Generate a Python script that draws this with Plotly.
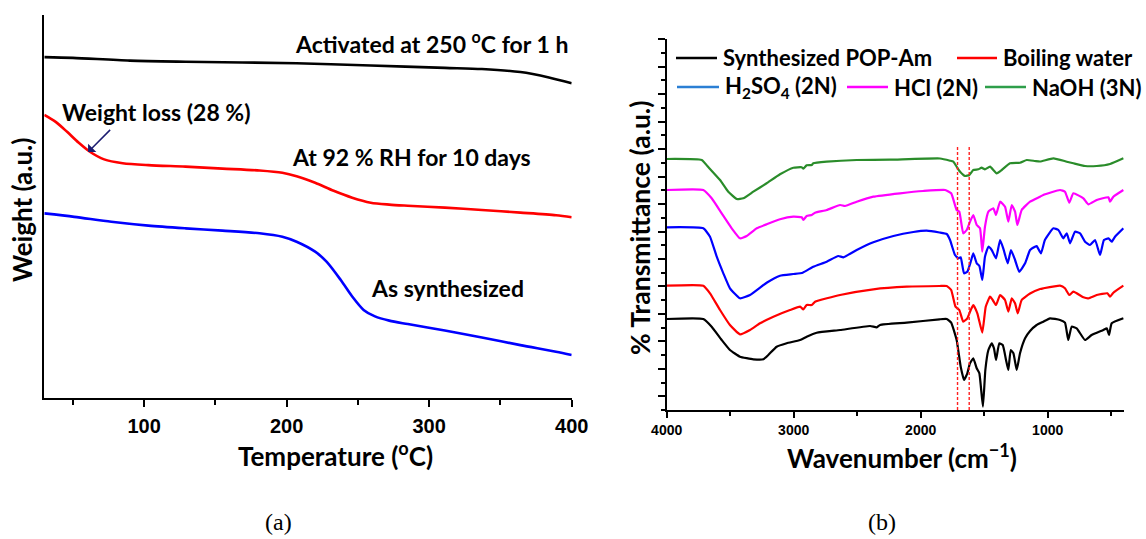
import plotly.graph_objects as go

# ---------------- Panel (a): TGA ----------------
temp_activated = [30, 50, 90, 129, 207, 259, 311, 337, 364, 384, 400]
weight_activated = [89.0, 88.8, 88.1, 87.8, 87.4, 86.8, 86.2, 85.9, 85.1, 83.7, 82.2]

temp_humid = [30, 38, 46, 54, 62, 72, 85, 103, 129, 155, 181, 197, 207, 220, 233, 246,
              259, 272, 285, 311, 337, 364, 389, 400]
weight_humid = [73.9, 72.1, 69.5, 66.7, 64.3, 62.3, 61.3, 60.8, 60.4, 59.9, 59.4, 58.8,
                57.9, 56.2, 54.1, 52.3, 51.0, 50.5, 50.2, 49.7, 49.1, 48.4, 47.7, 47.2]

temp_synth = [30, 51, 77, 103, 129, 155, 181, 197, 207, 220, 228, 238, 246, 254, 262,
              272, 285, 311, 337, 364, 389, 400]
weight_synth = [48.2, 47.3, 46.0, 45.0, 44.3, 43.7, 43.0, 42.1, 40.8, 38.2, 35.6, 30.8,
                26.5, 23.0, 21.3, 20.2, 19.3, 17.6, 15.8, 13.8, 12.1, 11.2]

# ---------------- Panel (b): FTIR ----------------
wn_naoh = [4000, 3724, 3675, 3580, 3515, 3449, 3397, 3318, 3213, 3108, 3003, 2937, 2924,
           2898, 2858, 2846, 2740, 2504, 2242, 1848, 1769, 1743, 1717, 1690, 1651, 1617,
           1586, 1546, 1520, 1494, 1454, 1402, 1362, 1297, 1218, 1165, 1100, 1060, 955,
           850, 798, 706, 614, 509, 404]
tr_naoh = [25.1, 25.0, 24.33, 23.0, 21.83, 21.1, 21.17, 21.83, 22.67, 23.57, 24.23, 24.27,
           24.13, 24.47, 24.5, 24.67, 24.83, 25.0, 25.03, 25.15, 24.93, 24.83, 24.33, 23.83,
           23.4, 23.5, 24.0, 24.07, 24.23, 24.07, 24.33, 23.67, 24.0, 24.67, 24.73, 25.0,
           24.9, 24.85, 25.17, 24.83, 24.67, 24.4, 24.4, 24.6, 25.17]

wn_hcl = [4000, 3712, 3646, 3567, 3488, 3423, 3370, 3291, 3213, 3108, 3003, 2937, 2924,
          2898, 2858, 2832, 2740, 2635, 2596, 2504, 2373, 2163, 1980, 1807, 1760, 1717,
          1696, 1665, 1638, 1612, 1586, 1559, 1533, 1515, 1494, 1467, 1428, 1407, 1375,
          1336, 1310, 1283, 1257, 1239, 1205, 1139, 1060, 1035, 903, 864, 830, 798, 719,
          680, 614, 522, 509, 483, 404]
tr_hcl = [22.0, 22.0, 21.17, 19.67, 18.17, 17.17, 17.4, 18.17, 18.57, 19.07, 19.33, 19.27,
          19.0, 19.4, 19.5, 19.73, 20.0, 20.5, 20.4, 20.83, 21.33, 21.67, 21.9, 22.0, 21.67,
          20.0, 19.83, 17.67, 18.0, 18.83, 19.5, 18.5, 18.17, 15.83, 18.33, 19.83, 20.17,
          19.5, 20.83, 20.33, 18.83, 20.5, 19.83, 18.5, 20.0, 20.83, 21.33, 21.5, 22.0,
          21.83, 20.73, 21.67, 21.17, 20.57, 21.0, 21.27, 20.83, 21.33, 22.0]

wn_h2so4 = [4000, 3712, 3659, 3606, 3554, 3502, 3423, 3344, 3213, 3108, 3003, 2929, 2846,
            2740, 2649, 2609, 2504, 2373, 2215, 2058, 1953, 1852, 1795, 1769, 1730, 1704,
            1685, 1659, 1633, 1606, 1586, 1559, 1538, 1515, 1494, 1467, 1441, 1407, 1375,
            1350, 1315, 1289, 1257, 1224, 1178, 1139, 1100, 1087, 1053, 1022, 955, 916,
            877, 850, 824, 785, 745, 706, 667, 627, 588, 557, 522, 496, 470, 404]
tr_h2so4 = [18.27, 18.17, 17.33, 15.33, 13.67, 12.17, 11.17, 11.5, 12.73, 13.43, 13.6,
            13.73, 14.33, 14.83, 15.4, 15.27, 16.0, 16.77, 17.4, 17.8, 17.93, 17.75, 17.6,
            17.0, 15.5, 15.17, 15.27, 13.67, 13.83, 14.83, 15.67, 14.67, 14.4, 13.0, 15.33,
            16.33, 16.0, 15.17, 17.0, 16.17, 14.67, 16.0, 15.0, 13.83, 14.67, 16.0, 16.33,
            16.4, 15.67, 17.0, 18.17, 18.0, 17.17, 17.67, 16.67, 17.83, 17.67, 16.83, 16.5,
            17.0, 15.5, 17.0, 17.17, 16.83, 17.33, 18.17]

wn_boil = [4000, 3712, 3659, 3580, 3502, 3423, 3344, 3265, 3160, 3029, 2950, 2924, 2898,
           2858, 2832, 2635, 2373, 2110, 1852, 1795, 1760, 1726, 1696, 1665, 1633, 1606,
           1586, 1554, 1515, 1488, 1454, 1433, 1407, 1375, 1336, 1310, 1283, 1257, 1236,
           1205, 1139, 1060, 1035, 903, 864, 830, 798, 719, 680, 614, 530, 509, 483, 404]
tr_boil = [12.43, 12.43, 11.67, 10.0, 8.5, 7.57, 8.0, 8.67, 9.33, 10.0, 10.33, 10.07, 10.5,
           10.5, 10.83, 11.5, 12.07, 12.33, 12.4, 12.4, 12.0, 10.33, 10.0, 8.83, 9.17, 10.0,
           10.5, 9.67, 7.73, 10.33, 11.33, 11.0, 10.5, 11.5, 11.0, 9.83, 11.17, 10.67, 9.67,
           11.0, 11.65, 12.1, 12.17, 12.43, 12.17, 11.5, 11.83, 11.27, 11.17, 11.5, 11.67,
           11.33, 11.73, 12.43]

wn_synth = [4000, 3712, 3646, 3567, 3502, 3423, 3318, 3239, 3200, 3134, 3055, 2950, 2898,
            2819, 2635, 2399, 2346, 2320, 2110, 1852, 1795, 1760, 1717, 1685, 1659, 1633,
            1612, 1586, 1559, 1538, 1510, 1491, 1467, 1441, 1423, 1407, 1381, 1354, 1328,
            1310, 1291, 1270, 1244, 1218, 1178, 1139, 1087, 1035, 982, 903, 864, 838, 811,
            772, 706, 654, 562, 535, 517, 496, 404]
tr_synth = [9.1, 9.1, 8.33, 7.0, 6.0, 5.33, 5.07, 5.07, 5.5, 6.33, 6.67, 7.0, 7.33, 7.73,
            8.0, 8.4, 8.27, 8.5, 8.73, 9.07, 9.1, 8.73, 7.0, 4.33, 3.0, 3.67, 4.67, 5.17,
            4.17, 3.67, 0.33, 4.0, 6.0, 6.67, 6.17, 5.0, 6.67, 6.5, 5.0, 4.0, 6.0, 5.67, 4.0,
            5.67, 7.17, 7.9, 8.5, 8.83, 9.17, 9.0, 8.73, 7.0, 8.33, 8.17, 7.0, 7.5, 8.0, 8.17,
            7.5, 8.67, 9.17]

marker_lines = [1710, 1618]   # dashed reference lines (cm-1)

legend_names = ["Synthesized POP-Am", "Boiling water", "H<sub>2</sub>SO<sub>4</sub> (2N)",
                "HCl (2N)", "NaOH (3N)"]

BLACK, RED, BLUE, MAG, GREEN = "#000000", "#ff0000", "#0000ff", "#ff00ff", "#2a8c2a"

fig = go.Figure()

for t, w, c in [(temp_activated, weight_activated, BLACK),
                (temp_humid, weight_humid, RED),
                (temp_synth, weight_synth, BLUE)]:
    fig.add_trace(go.Scatter(x=t, y=w, mode="lines", line=dict(color=c, width=2.6, shape="spline", smoothing=0.8),
                             xaxis="x", yaxis="y", showlegend=False, hoverinfo="skip"))

for wn, tr, c in [(wn_synth, tr_synth, BLACK), (wn_boil, tr_boil, RED),
                  (wn_h2so4, tr_h2so4, BLUE), (wn_hcl, tr_hcl, MAG), (wn_naoh, tr_naoh, GREEN)]:
    fig.add_trace(go.Scatter(x=wn, y=tr, mode="lines", line=dict(color=c, width=2.2, shape="spline", smoothing=0.4),
                             xaxis="x2", yaxis="y2", showlegend=False, hoverinfo="skip"))

for m in marker_lines:
    fig.add_trace(go.Scatter(x=[m, m], y=[0.0, 26.5], mode="lines",
                             line=dict(color="#ff2020", width=1.4, dash="3px,2px"),
                             xaxis="x2", yaxis="y2", showlegend=False, hoverinfo="skip"))

W, H = 1146, 539
def px(x): return x / W
def py(y): return 1 - y / H

axis_common = dict(showgrid=False, zeroline=False, showline=True, linecolor="black",
                   linewidth=2, ticks="outside", tickcolor="black", tickwidth=2,
                   automargin=False)

fig.update_layout(
    template="none",
    width=W, height=H, margin=dict(l=0, r=0, t=0, b=0, pad=0, autoexpand=False),
    paper_bgcolor="white", plot_bgcolor="white",
    xaxis=dict(domain=[px(44.3), px(571.7)], range=[30, 400], anchor="y",
               tickvals=[100, 200, 300, 400], ticklen=7, ticklabelstandoff=2,
               minor=dict(tickvals=[50, 150, 250, 350], ticklen=5, tickwidth=2, ticks="outside", tickcolor="black"),
               tickfont=dict(family="Liberation Sans", size=20, color="black", weight="bold"),
               **axis_common),
    yaxis=dict(domain=[py(398), py(15)], range=[0, 100], anchor="x", showticklabels=False,
               **{**axis_common, "ticks": ""}),
    xaxis2=dict(domain=[px(666.7), px(1123.9)], range=[4000, 400], anchor="y2",
                tickvals=[4000, 3000, 2000, 1000], ticklen=6, ticklabelstandoff=0,
                minor=dict(tickvals=[3500, 2500, 1500, 500], ticklen=4, tickwidth=2, ticks="outside", tickcolor="black"),
                tickfont=dict(family="Liberation Sans", size=14, color="black", weight="bold"),
                **axis_common),
    yaxis2=dict(domain=[py(410), py(39.3)], range=[0, 37.07], anchor="x2", showticklabels=False,
                tick0=1.372, dtick=2.746, ticklen=7,
                minor=dict(tick0=0.0, dtick=1.373, ticklen=4, tickwidth=2, ticks="outside", tickcolor="black"),
                **axis_common),
)

LAB = dict(family="Lato", color="black", weight="bold")
ann = []
def text(x, y, s, size, anchor="center", angle=0, font=None):
    f = dict(LAB) if font is None else dict(font)
    f["size"] = size
    ann.append(dict(x=px(x), y=py(y), xref="paper", yref="paper", text=s, showarrow=False,
                    xanchor=anchor, yanchor="middle", textangle=angle, font=f))

text(22, 210, "Weight (a.u.)", 26, angle=-90)
text(335, 454, "Temperature (<sup>o</sup>C)", 26)
text(431, 43, "Activated at 250 <sup>o</sup>C for 1 h", 23)
text(156, 112, "Weight loss (28 %)", 23)
text(411, 157, "At 92 % RH for 10 days", 23)
text(447, 288, "As synthesized", 23)
text(640, 228, "% Transmittance (a.u.)", 26.5, angle=-90)
text(902, 456, "Wavenumber (cm<sup>\u22121</sup>)", 26)
serif = dict(family="Liberation Serif", color="black", weight="normal")
text(278, 522, "(a)", 24, font=serif)
text(882, 522, "(b)", 24, font=serif)

ann.append(dict(x=60.7, y=64.2, ax=78.3, ay=70.8, xref="x", yref="y", axref="x", ayref="y",
                showarrow=True, arrowhead=1, arrowsize=1.3, arrowwidth=1.5, arrowcolor="#1c1c70", text=" ",
                font=dict(size=10)))

legend_items = [(676, 717, 58, BLACK, legend_names[0]), (957, 997, 58, RED, legend_names[1]),
                (677, 719, 87, "#2b7fd4", legend_names[2]), (847, 888, 87, MAG, legend_names[3]),
                (985, 1026, 87, "#2e9e4a", legend_names[4])]
shapes = []
for x0, x1, yy, c, name in legend_items:
    shapes.append(dict(type="line", xref="paper", yref="paper", x0=px(x0), x1=px(x1), y0=py(yy), y1=py(yy),
                       line=dict(color=c, width=2.5)))
    text(x1 + 4, yy, name, 22, anchor="left")

fig.update_layout(annotations=ann, shapes=shapes)
fig.write_html("out.html", config={"displayModeBar": False},
               post_script="document.body.style.margin='0';document.body.style.overflow='hidden';")
